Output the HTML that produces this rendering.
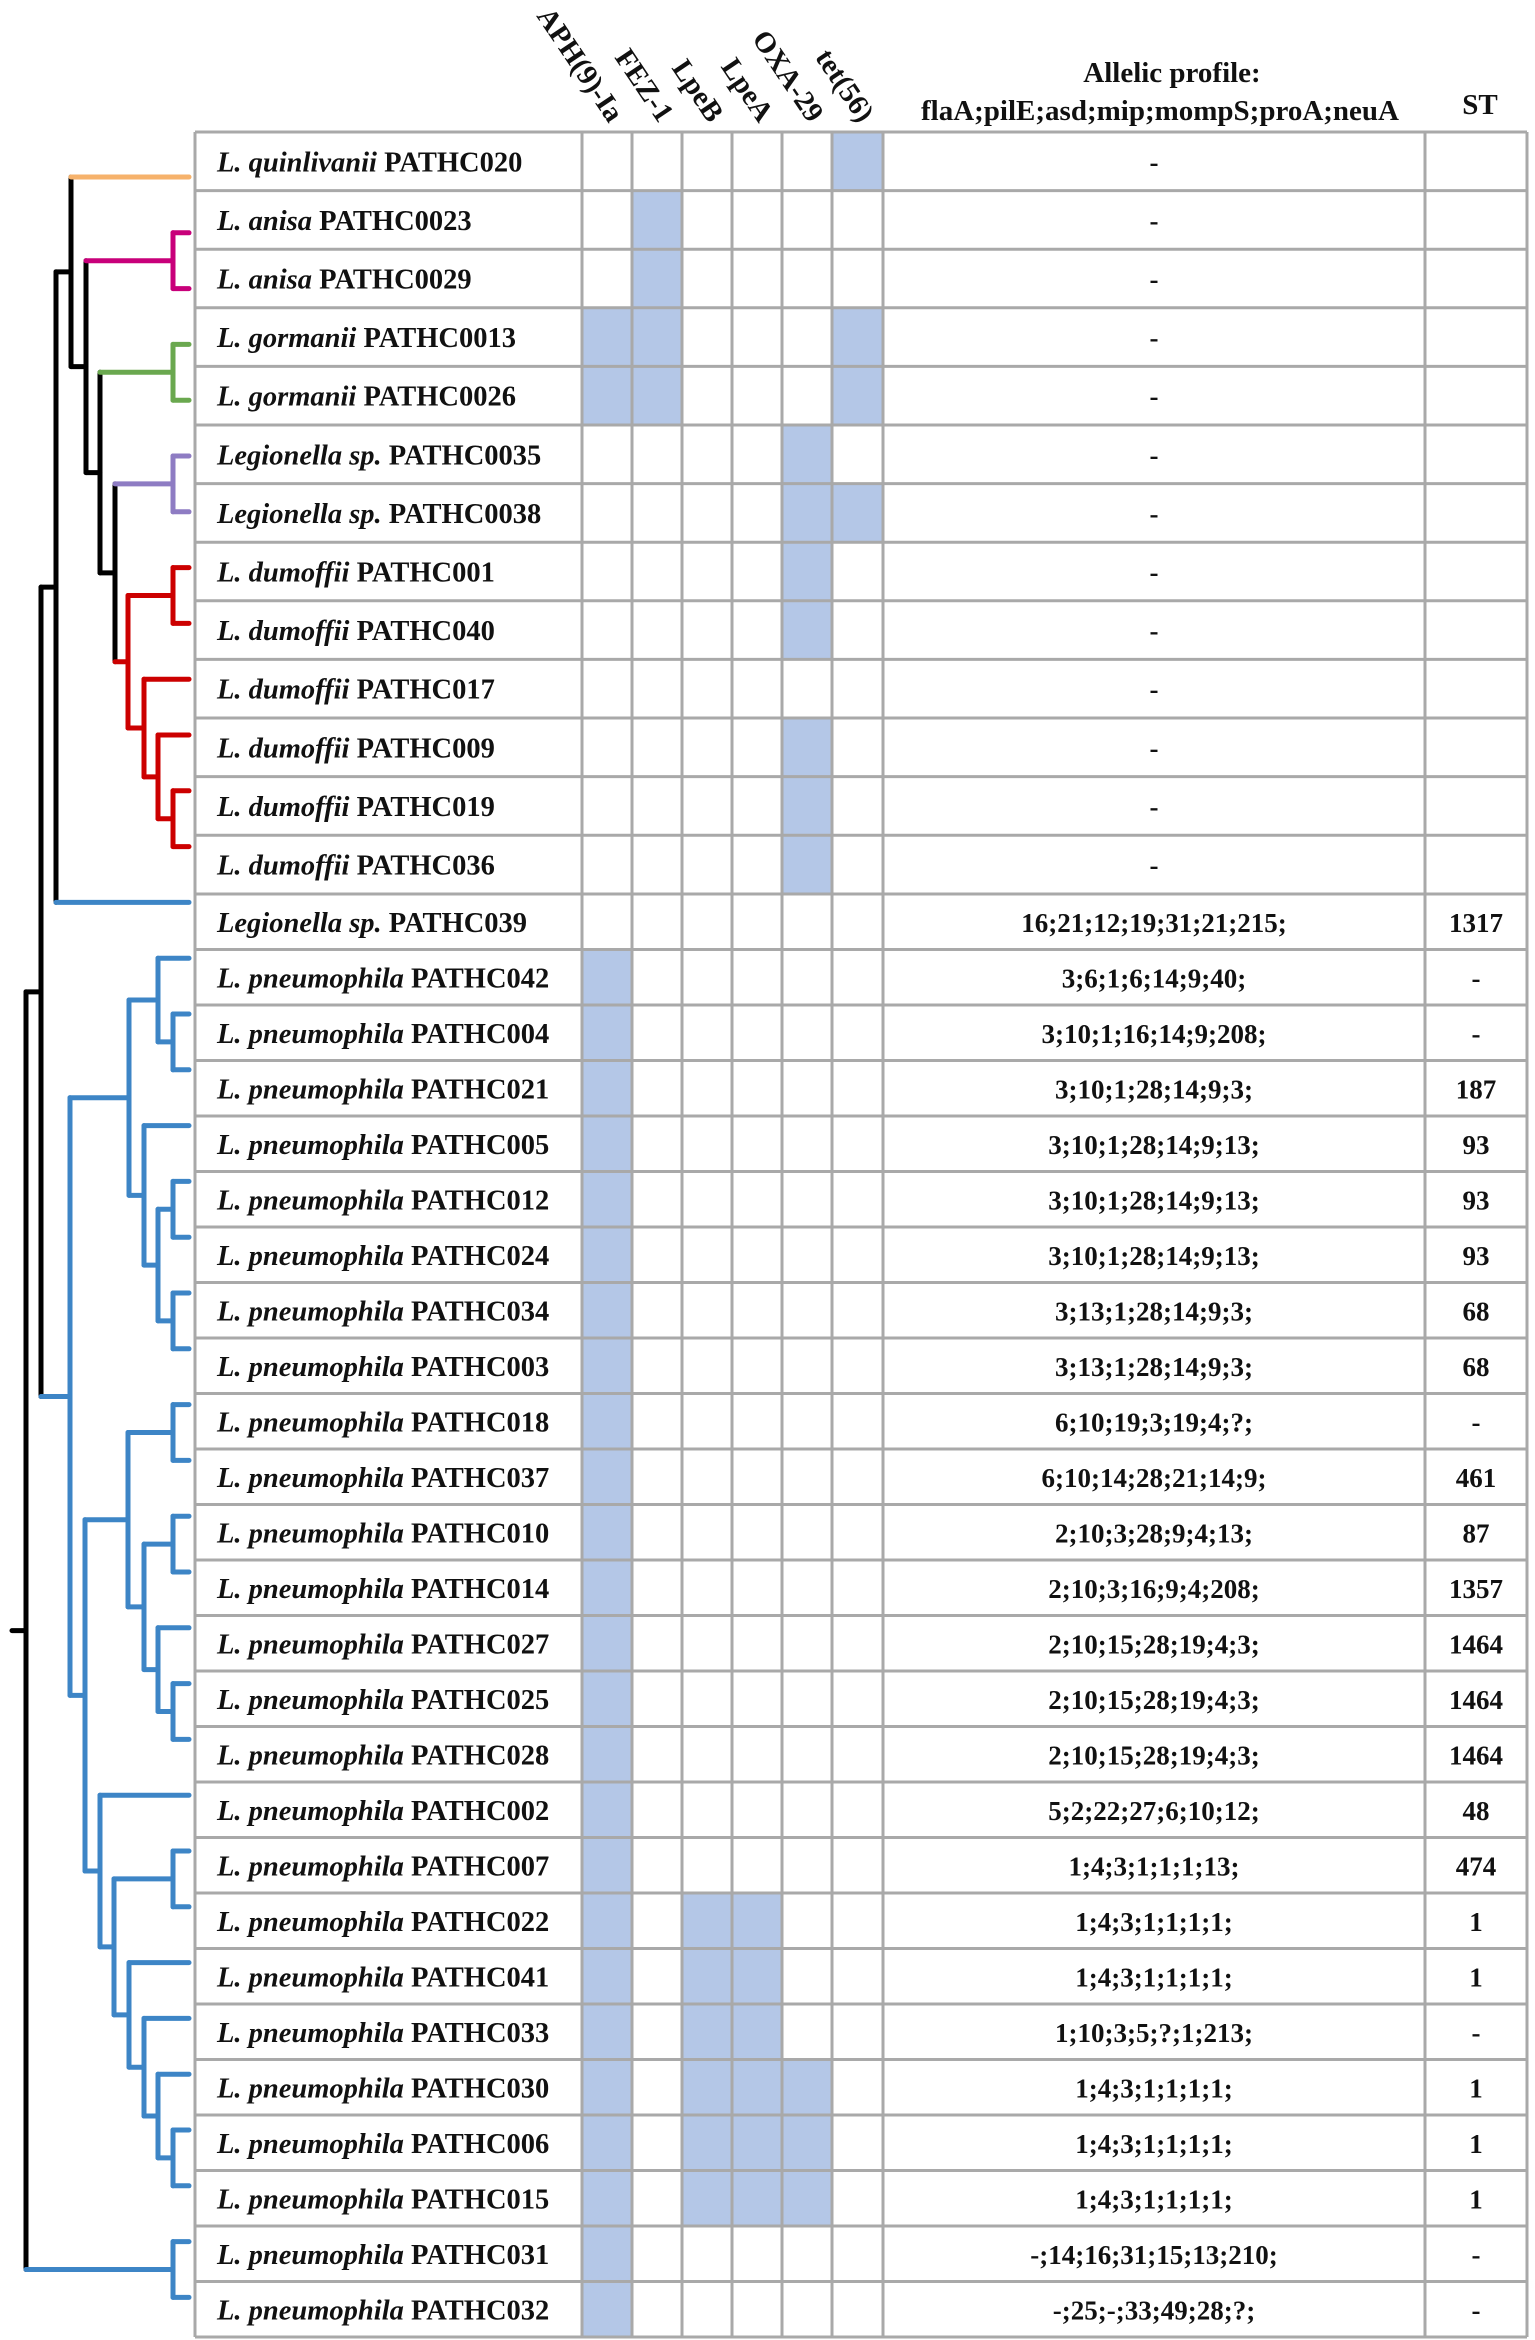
<!DOCTYPE html>
<html><head><meta charset="utf-8">
<style>
html,body{margin:0;padding:0;background:#fff;}
svg{display:block;}
text{font-family:"Liberation Serif",serif;font-weight:bold;fill:#111;}
</style></head>
<body>
<svg id="fig" width="1535" height="2340" viewBox="0 0 1535 2340" xmlns="http://www.w3.org/2000/svg"></svg>
<script>
// ---- data ----
const species = ["L. quinlivanii","L. anisa","L. anisa","L. gormanii","L. gormanii","Legionella sp.","Legionella sp.","L. dumoffii","L. dumoffii","L. dumoffii","L. dumoffii","L. dumoffii","L. dumoffii","Legionella sp.",
"L. pneumophila","L. pneumophila","L. pneumophila","L. pneumophila","L. pneumophila","L. pneumophila","L. pneumophila","L. pneumophila","L. pneumophila","L. pneumophila","L. pneumophila","L. pneumophila","L. pneumophila","L. pneumophila","L. pneumophila","L. pneumophila","L. pneumophila","L. pneumophila","L. pneumophila","L. pneumophila","L. pneumophila","L. pneumophila","L. pneumophila","L. pneumophila","L. pneumophila"];
const strainIds = ["PATHC020","PATHC0023","PATHC0029","PATHC0013","PATHC0026","PATHC0035","PATHC0038","PATHC001","PATHC040","PATHC017","PATHC009","PATHC019","PATHC036","PATHC039",
"PATHC042","PATHC004","PATHC021","PATHC005","PATHC012","PATHC024","PATHC034","PATHC003","PATHC018","PATHC037","PATHC010","PATHC014","PATHC027","PATHC025","PATHC028","PATHC002","PATHC007","PATHC022","PATHC041","PATHC033","PATHC030","PATHC006","PATHC015","PATHC031","PATHC032"];
const genes = ["APH(9)-Ia","FEZ-1","LpeB","LpeA","OXA-29","tet(56)"];
// presence strings: one char per gene (APH,FEZ,LpeB,LpeA,OXA,tet)
const presence = ["000001","010000","010000","110001","110001","000010","000011","000010","000010","000000","000010","000010","000010","000000",
"100000","100000","100000","100000","100000","100000","100000","100000","100000","100000","100000","100000","100000","100000","100000","100000","100000",
"101100","101100","101100","101110","101110","101110","100000","100000"];
const allelic = ["-","-","-","-","-","-","-","-","-","-","-","-","-","16;21;12;19;31;21;215;",
"3;6;1;6;14;9;40;","3;10;1;16;14;9;208;","3;10;1;28;14;9;3;","3;10;1;28;14;9;13;","3;10;1;28;14;9;13;","3;10;1;28;14;9;13;","3;13;1;28;14;9;3;","3;13;1;28;14;9;3;",
"6;10;19;3;19;4;?;","6;10;14;28;21;14;9;","2;10;3;28;9;4;13;","2;10;3;16;9;4;208;","2;10;15;28;19;4;3;","2;10;15;28;19;4;3;","2;10;15;28;19;4;3;",
"5;2;22;27;6;10;12;","1;4;3;1;1;1;13;","1;4;3;1;1;1;1;","1;4;3;1;1;1;1;","1;10;3;5;?;1;213;","1;4;3;1;1;1;1;","1;4;3;1;1;1;1;","1;4;3;1;1;1;1;",
"-;14;16;31;15;13;210;","-;25;-;33;49;28;?;"];
const stValues = ["","","","","","","","","","","","","","1317","-","-","187","93","93","93","68","68","-","461","87","1357","1464","1464","1464","48","474","1","1","-","1","1","1","-","-"];

// tree: [nodeX, color, children...]; leaves are numbers (row index)
const tree = [26,"#000",
  [41,"#000",
    [56,"#000",
      [71,"#000", 0,
        [86,"#000",
          [173,"#C8007A",1,2],
          [100,"#000",
            [173,"#6AA84F",3,4],
            [115,"#000",
              [173,"#8E7CC3",5,6],
              [128,"#CC0000",
                [173,"#CC0000",7,8],
                [144,"#CC0000",9,[158,"#CC0000",10,[173,"#CC0000",11,12]]]
              ]
            ]
          ]
        ]
      ],
      13
    ],
    [70,"#3D85C6",
      [129,"#3D85C6",
        [158,"#3D85C6",14,[173,"#3D85C6",15,16]],
        [144,"#3D85C6",17,[158,"#3D85C6",[173,"#3D85C6",18,19],[173,"#3D85C6",20,21]]]
      ],
      [85,"#3D85C6",
        [128,"#3D85C6",
          [173,"#3D85C6",22,23],
          [144,"#3D85C6",[173,"#3D85C6",24,25],[158,"#3D85C6",26,[173,"#3D85C6",27,28]]]
        ],
        [100,"#3D85C6",29,
          [114,"#3D85C6",
            [173,"#3D85C6",30,31],
            [129,"#3D85C6",32,[144,"#3D85C6",33,[158,"#3D85C6",34,[173,"#3D85C6",35,36]]]]
          ]
        ]
      ]
    ]
  ],
  [173,"#3D85C6",37,38]
];
const leafColors = {0:"#F6B26B",13:"#3D85C6"};

// ---- layout ----
const svg = document.getElementById('fig');
const NS = "http://www.w3.org/2000/svg";
const colX = [195,582,632,682,732,782,832,883,1425,1527];
function rowTop(i){ return i<13 ? 132+58.6*i : 894+55.5*(i-13); }
function rowH(i){ return i<13 ? 58.6 : 55.5; }
function leafY(i){ return 177+i*55.8; }
const tipX = 189;

function mk(tag, attrs, parent){
  const e = document.createElementNS(NS, tag);
  for (const k in attrs) e.setAttribute(k, attrs[k]);
  (parent||svg).appendChild(e);
  return e;
}

// cells
const gCells = mk('g',{});


for (let i=0;i<species.length;i++){
  for (let g=0; g<genes.length; g++){
    if (presence[i][g]==='1'){
      const r = mk('rect',{x:colX[1+g],y:rowTop(i),width:colX[2+g]-colX[1+g],height:rowH(i),fill:'#B4C7E7'},gCells);
      
      
    }
  }
}

// grid
const gGrid = mk('g',{stroke:'#A9A9A9','stroke-width':3,fill:'none'});


const top0 = rowTop(0), bot = rowTop(species.length);
for (const x of colX) mk('line',{x1:x,y1:top0,x2:x,y2:bot},gGrid);
for (let i=0;i<=species.length;i++){ const y=rowTop(i); mk('line',{x1:colX[0],y1:y,x2:colX[9],y2:y},gGrid); }

// row texts
for (let i=0;i<species.length;i++){
  const cy = rowTop(i)+rowH(i)/2+10;
  const t = mk('text',{x:217,y:cy,'font-size':28.5});
  
  
  const s1 = mk('tspan',{'font-style':'italic'},t); s1.textContent = species[i];
  const s2 = mk('tspan',{},t); s2.textContent = ' '+strainIds[i];
  const a = mk('text',{x:(colX[7]+colX[8])/2,y:cy,'font-size':27,'text-anchor':'middle'});
  
  
  a.textContent = allelic[i];
  if (stValues[i]!==''){
    const s = mk('text',{x:(colX[8]+colX[9])/2,y:cy,'font-size':27,'text-anchor':'middle'});
    
    
    s.textContent = stValues[i];
  }
}

// headers
for (let g=0; g<genes.length; g++){
  const cx = (colX[1+g]+colX[2+g])/2 + 2;
  const t = mk('text',{x:cx,y:124,'font-size':29,'text-anchor':'end',transform:`rotate(56 ${cx} 124)`});
  
  
  t.textContent = genes[g];
}
const h1 = mk('text',{x:1172,y:82,'font-size':29,'text-anchor':'middle'});


h1.textContent = 'Allelic profile:';
const h2 = mk('text',{x:1160,y:120,'font-size':29,'text-anchor':'middle'});


h2.textContent = 'flaA;pilE;asd;mip;mompS;proA;neuA';
const h3 = mk('text',{x:1480,y:114,'font-size':29,'text-anchor':'middle'});


h3.textContent = 'ST';

// tree
const gTree = mk('g',{'stroke-width':5,'stroke-linecap':'round',fill:'none'});


function draw(node){
  if (typeof node === 'number') return {y:leafY(node), x:tipX, color:leafColors[node]||null};
  const [x,color,...kids] = node;
  const ch = kids.map(draw);
  const ys = ch.map(c=>c.y);
  const y0=Math.min(...ys), y1=Math.max(...ys);
  const v = mk('line',{x1:x,y1:y0,x2:x,y2:y1,stroke:color},gTree);
  
  
  ch.forEach((c,k)=>{
    const cx = (typeof kids[k]==='number') ? tipX : kids[k][0];
    const col = c.color || color;
    const h = mk('line',{x1:x,y1:c.y,x2:cx,y2:c.y,stroke:col},gTree);
    
    
  });
  return {y:(y0+y1)/2, x, color};
}
const root = draw(tree);
const tick = mk('line',{x1:12,y1:root.y,x2:26,y2:root.y,stroke:'#000'},gTree);


</script>
</body></html>
